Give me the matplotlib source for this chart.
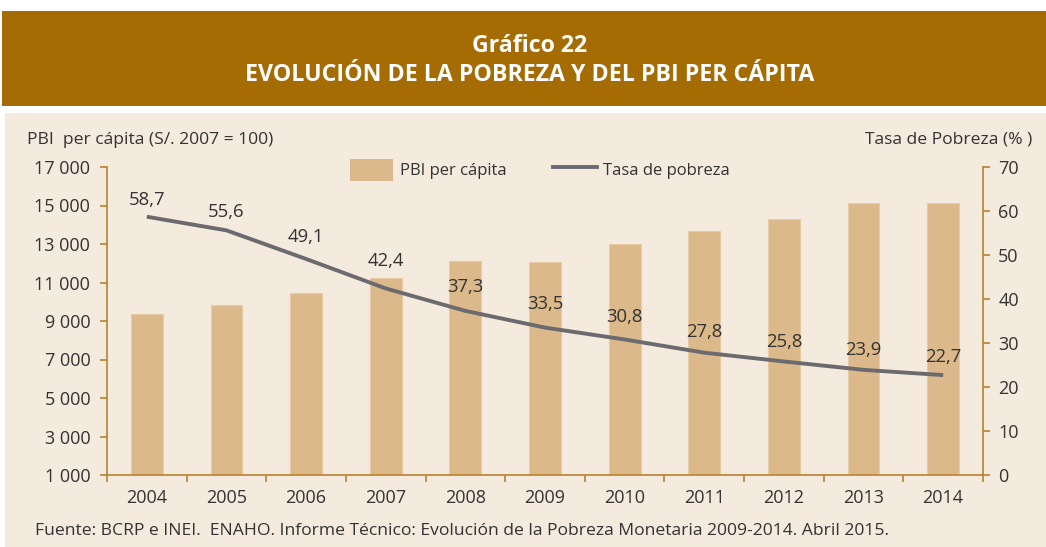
import matplotlib
matplotlib.use("Agg")
import matplotlib.pyplot as plt
from matplotlib.patches import Rectangle
from matplotlib.lines import Line2D
from matplotlib.patches import Patch
import numpy as np

plt.rcParams['font.family'] = ['Open Sans', 'DejaVu Sans']

# ---- data ----
years = ["2004", "2005", "2006", "2007", "2008", "2009", "2010", "2011", "2012", "2013", "2014"]
pbi_per_capita = [9380, 9840, 10450, 11220, 12100, 12080, 12990, 13650, 14290, 15120, 15130]
tasa_pobreza = [58.7, 55.6, 49.1, 42.4, 37.3, 33.5, 30.8, 27.8, 25.8, 23.9, 22.7]
left_ticks = [1000, 3000, 5000, 7000, 9000, 11000, 13000, 15000, 17000]
left_tick_labels = ["1 000", "3 000", "5 000", "7 000", "9 000", "11 000", "13 000", "15 000", "17 000"]
right_ticks = [0, 10, 20, 30, 40, 50, 60, 70]

# label vertical offsets (points) above line points - layout only
label_offsets = [12, 13, 16, 20, 17, 17, 16, 15, 14, 14, 13]

# ---- style ----
BANNER = "#a66c04"
PANEL = "#f4eadd"
BAR = "#dbb98b"
AXC = "#b8832e"
LINEC = "#6b6b6f"
TXT = "#333333"

W, H = 1046, 547
fig = plt.figure(figsize=(W / 100, H / 100), dpi=100)
fig.patch.set_facecolor("white")

def fy(px_from_top):
    return 1 - px_from_top / H

# banner
fig.add_artist(Rectangle((2 / W, fy(106)), 1 - 2 / W, (106 - 11) / H,
                         transform=fig.transFigure, facecolor=BANNER, edgecolor="none", zorder=0))
# panel
fig.add_artist(Rectangle((5 / W, 0), 1 - 5 / W, (547 - 113) / H,
                         transform=fig.transFigure, facecolor=PANEL, edgecolor="none", zorder=0))

fig.text(530 / W, fy(46), "Gráfico 22", ha="center", va="center",
         color="white", fontsize=16.7, fontweight="bold")
fig.text(530 / W, fy(75), "EVOLUCIÓN DE LA POBREZA Y DEL PBI PER CÁPITA", ha="center", va="center",
         color="white", fontsize=16.7, fontweight="bold")

left, right, top, bottom = 107, 983, 167, 475
ax = fig.add_axes([left / W, fy(bottom), (right - left) / W, (bottom - top) / H])
ax.set_facecolor("none")
x = np.arange(len(years))
ax.bar(x, pbi_per_capita, width=0.4, bottom=0, color=BAR, edgecolor="#e6cba3", linewidth=0.8, zorder=2)
ax.set_ylim(1000, 17000)
ax.set_xlim(-0.5, len(years) - 0.5)
ax.set_yticks(left_ticks)
ax.set_yticklabels(left_tick_labels)
ax.set_xticks(x)
ax.set_xticklabels(years)
ax.set_xticks(np.arange(len(years) + 1) - 0.5, minor=True)
ax.tick_params(axis="x", which="major", length=0, pad=10, labelsize=13, labelcolor=TXT)
ax.tick_params(axis="x", which="minor", length=5, width=1.2, color=AXC, direction="out")
ax.tick_params(axis="y", length=5, width=1.2, color=AXC, pad=7, labelsize=13, labelcolor=TXT)
for s in ["top", "right"]:
    ax.spines[s].set_visible(False)
for s in ["left", "bottom"]:
    ax.spines[s].set_color(AXC)
    ax.spines[s].set_linewidth(1.2)

ax2 = ax.twinx()
ax2.plot(x, tasa_pobreza, color=LINEC, linewidth=2.8, solid_capstyle="butt", zorder=3)
ax2.set_ylim(0, 70)
ax2.set_yticks(right_ticks)
ax2.tick_params(axis="y", length=5, width=1.2, color=AXC, pad=6, labelsize=13, labelcolor=TXT)
for s in ["top", "left", "bottom"]:
    ax2.spines[s].set_visible(False)
ax2.spines["right"].set_color(AXC)
ax2.spines["right"].set_linewidth(1.2)

for xi, v, off in zip(x, tasa_pobreza, label_offsets):
    ax2.annotate(f"{v:.1f}".replace(".", ","), (xi, v), xytext=(0, off), textcoords="offset points",
                 ha="center", va="center", fontsize=13.3, color=TXT)

# axis titles
fig.text(27 / W, fy(140), "PBI  per cápita (S/. 2007 = 100)", ha="left", va="center", fontsize=12.6, color=TXT)
fig.text(1032 / W, fy(140), "Tasa de Pobreza (% )", ha="right", va="center", fontsize=12.6, color=TXT)

# legend (figure coords)
handles = [Patch(facecolor=BAR, edgecolor="none"), Line2D([0], [0], color=LINEC, linewidth=2.8)]
leg = fig.legend(handles, ["PBI per cápita", "Tasa de pobreza"], loc="center left",
                 bbox_to_anchor=(335 / W, fy(170)), ncol=2, frameon=False, fontsize=12,
                 handlelength=2.6, handleheight=1.6, columnspacing=2.8, handletextpad=0.4,
                 labelcolor=TXT)

fig.text(35 / W, fy(531), "Fuente: BCRP e INEI.  ENAHO. Informe Técnico: Evolución de la Pobreza Monetaria 2009-2014. Abril 2015.",
         ha="left", va="center", fontsize=12.6, color=TXT)

fig.savefig("out.png", dpi=100, facecolor=fig.get_facecolor())
